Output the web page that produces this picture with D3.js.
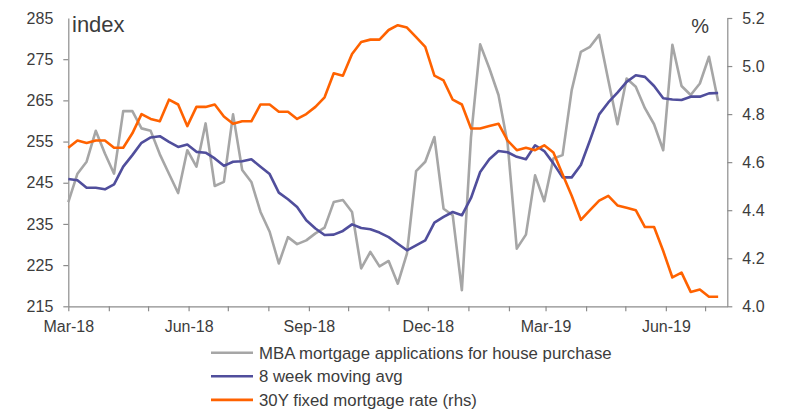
<!DOCTYPE html>
<html>
<head>
<meta charset="utf-8">
<script src="https://cdn.jsdelivr.net/npm/d3@7"></script>
<style>
  body { margin: 0; background: #fff; }
  text { font-family: "Liberation Sans", Arial, sans-serif; fill: #3c3c3c; }
  .line { fill: none; stroke-width: 2.6; stroke-linejoin: round; }
</style>
</head>
<body>
<script>
// weekly readings, first week 2 Mar 2018, last week 12 Jul 2019
var firstWeek = new Date(2018, 2, 2),
    lastWeek = new Date(2019, 6, 12);

// MBA purchase index (lhs)
var mbaIndex = [240.3, 247.2, 250.1, 257.6, 252.1, 247.2, 262.4, 262.4, 258.2, 257.6,
  251.9, 247.2, 242.5, 252.9, 248.9, 259.4, 244.2, 245.2, 261.6, 248.1,
  245.2, 237.9, 233.1, 225.4, 231.8, 230.1, 231.0, 232.7, 234.1, 240.3,
  240.8, 237.9, 224.2, 228.2, 224.7, 226.0, 220.5, 227.8, 247.8, 250.1,
  256.1, 238.7, 237.1, 218.9, 256.1, 278.6, 272.8, 266.3, 254.5, 229.0,
  232.4, 246.8, 240.5, 250.9, 251.7, 267.5, 276.8, 278.0, 280.9, 269.9,
  259.2, 270.3, 268.3, 263.1, 259.2, 252.9, 278.5, 268.5, 266.3, 269.1,
  275.6, 264.8];

// 8 week moving average (lhs)
var movingAvg = [245.9, 245.6, 243.8, 243.8, 243.4, 244.6, 248.9, 251.7, 254.7, 256.0,
  256.3, 254.9, 253.7, 254.3, 252.5, 252.3, 250.9, 249.1, 250.1, 250.2,
  250.7, 248.9, 247.1, 242.6, 241.0, 239.1, 235.9, 233.9, 232.3, 232.4,
  233.3, 234.9, 234.0, 233.7, 232.9, 231.8, 230.2, 228.6, 229.8, 231.0,
  235.3, 236.7, 237.9, 237.1, 241.3, 247.6, 250.7, 252.7, 252.4, 251.3,
  250.7, 254.1, 252.7, 249.7, 246.3, 246.3, 249.3, 255.3, 261.6, 264.5,
  266.9, 269.5, 271.1, 270.7, 268.5, 265.5, 265.2, 265.1, 265.9, 265.9,
  266.7, 266.8];

// 30Y fixed mortgage rate, % (rhs)
var mortgageRate = [4.66, 4.69, 4.68, 4.69, 4.69, 4.66, 4.66, 4.72, 4.80, 4.78,
  4.77, 4.86, 4.84, 4.75, 4.83, 4.83, 4.84, 4.79, 4.76, 4.77,
  4.77, 4.84, 4.84, 4.81, 4.81, 4.78, 4.80, 4.83, 4.87, 4.97,
  4.96, 5.05, 5.10, 5.11, 5.11, 5.15, 5.17, 5.16, 5.12, 5.08,
  4.96, 4.94, 4.86, 4.84, 4.74, 4.74, 4.75, 4.76, 4.69, 4.65,
  4.66, 4.65, 4.67, 4.64, 4.55, 4.46, 4.36, 4.40, 4.44, 4.46,
  4.42, 4.41, 4.40, 4.33, 4.33, 4.23, 4.12, 4.14, 4.06, 4.07,
  4.04, 4.04];

var leftTicks = [215, 225, 235, 245, 255, 265, 275, 285];
var rightTicks = [4.0, 4.2, 4.4, 4.6, 4.8, 5.0, 5.2];
var seriesNames = ["MBA mortgage applications for house purchase", "8 week moving avg", "30Y fixed mortgage rate (rhs)"];
var colors = ["#a6a6a6", "#504e9c", "#ff6200"];

var weeks = d3.timeDay.range(firstWeek, d3.timeDay.offset(lastWeek, 1), 7);
var monthTicks = d3.range(0, 17).map(function(k) { return d3.timeMonth.offset(firstWeek, k); });

var W = 800, H = 412,
    plotLeft = 68.3, plotRight = 727.3, plotTop = 18, plotBottom = 306.3;

var svg = d3.select("body").append("svg")
    .attr("width", W)
    .attr("height", H);

var x = d3.scaleTime().domain([firstWeek, d3.timeDay.offset(lastWeek, 7)]).range([plotLeft, plotRight]),
    yL = d3.scaleLinear().domain([215, 285]).range([plotBottom, plotTop]),
    yR = d3.scaleLinear().domain([4.0, 5.2]).range([plotBottom, plotTop]);

var fmt = d3.timeFormat("%b-%y");

// axes
var axisColor = "#8c8c8c";

var gx = svg.append("g")
    .attr("transform", "translate(0," + plotBottom + ")")
    .call(d3.axisBottom(x).tickValues(monthTicks).tickSize(5).tickSizeOuter(0)
      .tickFormat(function(d, i) { return i % 3 === 0 ? fmt(d) : ""; }));

var gl = svg.append("g")
    .attr("transform", "translate(" + plotLeft + ",0)")
    .call(d3.axisLeft(yL).tickValues(leftTicks).tickSize(5).tickSizeOuter(0).tickPadding(10));

var gr = svg.append("g")
    .attr("transform", "translate(" + plotRight + ",0)")
    .call(d3.axisRight(yR).tickValues(rightTicks).tickSize(5).tickSizeOuter(0).tickPadding(10)
      .tickFormat(d3.format(".1f")));

[gx, gl, gr].forEach(function(g) {
  g.select(".domain").attr("stroke", axisColor).attr("stroke-width", 1.2);
  g.selectAll(".tick line").attr("stroke", axisColor).attr("stroke-width", 1.2);
  g.selectAll(".tick text").style("font-size", "16px").attr("fill", "#3c3c3c");
});
gx.selectAll(".tick text").attr("dy", "1.1em");
// the top tick of the left axis is hidden by the label box in the original
gl.selectAll(".tick").filter(function(d) { return d === 285; }).select("line").remove();

// unit labels
svg.append("text").attr("x", 72).attr("y", 32).style("font-size", "22px").attr("fill", "#111").text("index");
svg.append("text").attr("x", 709).attr("y", 33).attr("text-anchor", "end").style("font-size", "20px").attr("fill", "#111").text("%");

// lines
var lineL = d3.line()
    .x(function(d, i) { return x(weeks[i]); })
    .y(function(d) { return yL(d); });
var lineR = d3.line()
    .x(function(d, i) { return x(weeks[i]); })
    .y(function(d) { return yR(d); });

svg.append("path").attr("class", "line").attr("stroke", colors[0]).attr("d", lineL(mbaIndex));
svg.append("path").attr("class", "line").attr("stroke", colors[1]).attr("d", lineL(movingAvg));
svg.append("path").attr("class", "line").attr("stroke", colors[2]).attr("d", lineR(mortgageRate));

// legend
var legend = svg.selectAll(".legend")
    .data(seriesNames)
    .enter().append("g")
      .attr("class", "legend")
      .attr("transform", function(d, i) { return "translate(211," + (352.7 + i * 23.6) + ")"; });

legend.append("line")
    .attr("x1", 0).attr("x2", 42)
    .attr("stroke", function(d, i) { return colors[i]; })
    .attr("stroke-width", 2.6);

legend.append("text")
    .attr("x", 48)
    .attr("dy", "0.36em")
    .style("font-size", "16.8px")
    .text(function(d) { return d; });
</script>
</body>
</html>
